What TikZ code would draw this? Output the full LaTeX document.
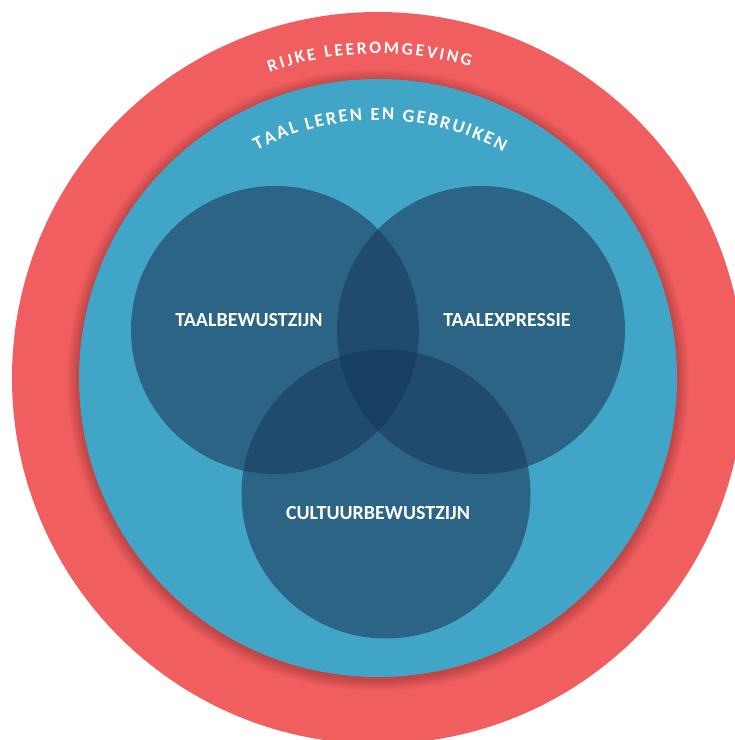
\documentclass[tikz,border=0pt]{standalone}
\usepackage{fontspec}
\setmainfont{Carlito}
\definecolor{ringred}{HTML}{F05E5F}
\definecolor{ringblue}{HTML}{40A5C7}
\definecolor{setone}{HTML}{2C6486}
\definecolor{settwo}{HTML}{214B6D}
\definecolor{setthree}{HTML}{163F62}
% #1 font size (pt), #2 centre, #3 baseline radius, #4 start angle, #5 end angle, #6 name prefix, #7 letter/width list (width in 1/1000 em)
\newcommand\arctext[7]{%
  \gdef\arctotal{0}\gdef\arccount{0}%
  \foreach \ch/\w in {#7} {%
    \pgfmathsetmacro\arctmp{\arctotal+\w/1000*#1}\xdef\arctotal{\arctmp}%
    \pgfmathtruncatemacro\arctmpc{\arccount+1}\xdef\arccount{\arctmpc}%
  }%
  \pgfmathsetmacro\arclen{(#4-#5)/180*pi*#3}%
  \pgfmathsetmacro\arcgap{(\arclen-\arctotal)/(\arccount-1)}%
  \xdef\arcgap{\arcgap}%
  \gdef\arcpos{0}%
  \foreach \ch/\w [count=\k] in {#7} {%
    \pgfmathsetmacro\arcw{\w/1000*#1}%
    \pgfmathsetmacro\arcang{#4-(\arcpos+0.5*\arcw)/(#3)*180/pi}%
    \node[arcchar, font=\bfseries\fontsize{#1pt}{#1pt}\selectfont, rotate=\arcang-90] (#6-\k) at ([shift={(\arcang:#3)}]#2) {\ch};
    \pgfmathsetmacro\arctmp{\arcpos+\arcw+\arcgap}\xdef\arcpos{\arctmp}%
  }%
}
\tikzset{
  setlabel/.style={text=white, font=\bfseries\fontsize{20pt}{22pt}\selectfont, inner sep=0pt},
  arcchar/.style={text=white, inner sep=0pt, anchor=base},
}
\begin{document}
\begin{tikzpicture}[x=1pt,y=1pt]
\useasboundingbox (0,0) rectangle (735,740);
\clip (0,0) rectangle (735,740);
\coordinate (c) at (378,362);
\coordinate (l) at (275,410);
\coordinate (r) at (481,410);
\coordinate (b) at (386,246);
% outer ring
\fill[ringred] (c) circle (366);
% shadow of blue disc
\foreach \i in {1,...,12} {
  \fill[black, opacity=0.016] ([yshift=-2pt]c) circle ({299+\i});
}
\fill[ringblue] (c) circle (299);
% three sets
\fill[setone] (l) circle (144);
\fill[setone] (r) circle (144);
\fill[setone] (b) circle (144.5);
\begin{scope}
  \clip (l) circle (144);
  \fill[settwo] (r) circle (144);
  \fill[settwo] (b) circle (144.5);
\end{scope}
\begin{scope}
  \clip (r) circle (144);
  \fill[settwo] (b) circle (144.5);
\end{scope}
\begin{scope}
  \clip (l) circle (144);
  \clip (r) circle (144);
  \fill[setthree] (b) circle (144.5);
\end{scope}
% curved titles
\arctext{17.5}{c}{324.5}{109.5}{73.5}{rl}{R/563,I/267,J/331,K/547,E/488,\ /226,L/423,E/488,E/488,R/563,O/676,M/874,G/637,E/488,V/591,I/267,N/659,G/637}
\arctext{18.5}{c}{258}{118}{61}{tl}{T/495,A/606,A/606,L/423,\ /226,L/423,E/488,R/563,E/488,N/659,\ /226,E/488,N/659,\ /226,G/637,E/488,B/561,R/563,U/653,I/267,K/547,E/488,N/659}
% labels
\node[setlabel] (tb) at (249,420) {TAALBEWUSTZIJN};
\node[setlabel] (te) at (507,420) {TAALEXPRESSIE};
\node[setlabel] (cb) at (378,227) {CULTUURBEWUSTZIJN};
\end{tikzpicture}
\end{document}
